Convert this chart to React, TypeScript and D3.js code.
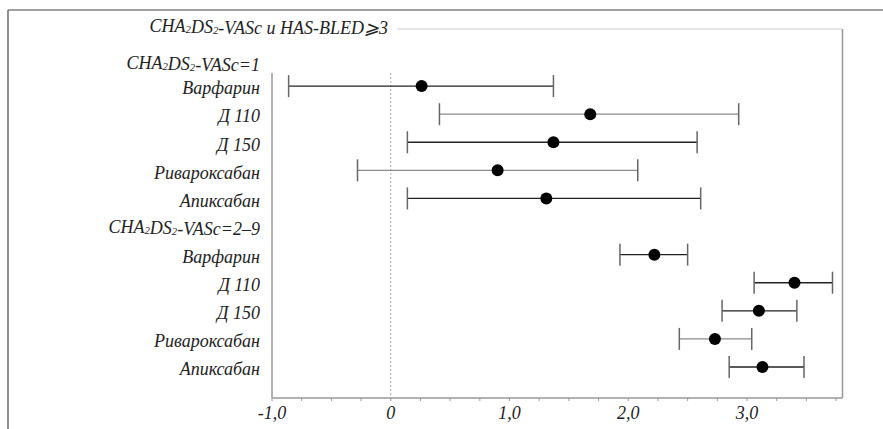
import React from "react";
import * as d3 from "d3";

const title = "CHA₂DS₂-VASc и HAS-BLED⩾3";
const groupHeaders = ["CHA₂DS₂-VASc=1", "CHA₂DS₂-VASc=2–9"];
const drugs = ["Варфарин", "Д 110", "Д 150", "Ривароксабан", "Апиксабан"];

// Group 1: CHA2DS2-VASc = 1
const est1 = [0.26, 1.68, 1.37, 0.9, 1.31];
const lo1 = [-0.86, 0.41, 0.14, -0.28, 0.14];
const hi1 = [1.37, 2.93, 2.58, 2.08, 2.61];
// Group 2: CHA2DS2-VASc = 2–9
const est2 = [2.22, 3.4, 3.1, 2.73, 3.13];
const lo2 = [1.93, 3.06, 2.79, 2.43, 2.85];
const hi2 = [2.5, 3.72, 3.42, 3.04, 3.48];

const xTicks = [-1, 0, 1, 2, 3];
const xTickLabels = ["-1,0", "0", "1,0", "2,0", "3,0"];

// style: which rows are drawn in the lighter grey tone
const lightRows1 = [false, true, false, true, false];
const lightRows2 = [false, false, false, true, false];

const W = 883;
const H = 429;
const FONT = "Liberation Serif";
const FS = 18;

function SubText({ text }: { text: string }) {
  const parts: React.ReactNode[] = [];
  let buf = "";
  let k = 0;
  for (const ch of text) {
    if (ch === "₂") {
      if (buf) parts.push(<tspan key={k++}>{buf}</tspan>);
      buf = "";
      parts.push(
        <tspan key={k++} fontSize={FS * 0.6} dy={1}>
          2
        </tspan>
      );
      parts.push(<tspan key={k++} dy={-1}>{""}</tspan>);
    } else buf += ch;
  }
  if (buf) parts.push(<tspan key={k++}>{buf}</tspan>);
  return <>{parts}</>;
}

export default function App() {
  const x = d3.scaleLinear().domain([-1, 3.8]).range([272, 842]);
  const y = d3.scalePoint<number>().domain(d3.range(12)).range([58, 367]);
  const plotTop = 29;
  const plotBottom = 398;
  const labelX = 260;
  const textStyle: React.CSSProperties = { fontFamily: FONT, fontStyle: "italic", fontSize: `${FS}px` };

  type Row = { label: string; est: number; lo: number; hi: number; light: boolean; idx: number };
  const rows: Row[] = [];
  drugs.forEach((d, i) =>
    rows.push({ label: d, est: est1[i], lo: lo1[i], hi: hi1[i], light: lightRows1[i], idx: 1 + i })
  );
  drugs.forEach((d, i) =>
    rows.push({ label: d, est: est2[i], lo: lo2[i], hi: hi2[i], light: lightRows2[i], idx: 7 + i })
  );

  const minorTicks = d3.range(-1, 3.76, 0.25);

  return (
    <svg width={W} height={H} style={{ position: "absolute", left: 0, top: 0, background: "#fff" }}>
      <rect x={0} y={0} width={W} height={H} fill="#fff" />
      {/* outer frame */}
      <line x1={8} x2={W} y1={10} y2={10} stroke="#444" strokeWidth={1.2} />
      <line x1={8} x2={8} y1={10} y2={H} stroke="#444" strokeWidth={1.2} />

      {/* plot box */}
      <line x1={397} x2={842} y1={plotTop} y2={plotTop} stroke="#ccc" strokeWidth={1} />
      <line x1={842.5} x2={842.5} y1={plotTop} y2={plotBottom} stroke="#999" strokeWidth={1.5} />
      <line x1={x(-1)} x2={x(-1)} y1={73} y2={plotBottom} stroke="#999" strokeWidth={1.5} />
      <line x1={x(-1)} x2={842.5} y1={plotBottom} y2={plotBottom} stroke="#999" strokeWidth={1.5} />
      {minorTicks.map((t, i) => (
        <line key={i} x1={x(t)} x2={x(t)} y1={plotBottom} y2={plotBottom + 3} stroke="#999" strokeWidth={1} />
      ))}
      {/* zero line */}
      <line x1={x(0)} x2={x(0)} y1={73} y2={plotBottom} stroke="#aaa" strokeWidth={1} strokeDasharray="2,2" />

      {/* x tick labels */}
      {xTicks.map((t, i) => (
        <text key={i} x={x(t)} y={413} dy="0.35em" textAnchor="middle" style={textStyle} fill="#222">
          {xTickLabels[i]}
        </text>
      ))}

      {/* title */}
      <text x={388} y={26} dy="0.35em" textAnchor="end" style={textStyle} fill="#222">
        <SubText text={title} />
      </text>

      {/* group headers */}
      <text x={labelX} y={(y(0) as number) + 5} dy="0.35em" textAnchor="end" style={textStyle} fill="#222">
        <SubText text={groupHeaders[0]} />
      </text>
      <text x={labelX} y={y(6) as number} dy="0.35em" textAnchor="end" style={textStyle} fill="#222">
        <SubText text={groupHeaders[1]} />
      </text>

      {rows.map((r, i) => {
        const yy = y(r.idx) as number;
        const col = r.light ? "#8a8a8a" : "#222";
        return (
          <g key={i}>
            <text x={labelX} y={yy + 2} dy="0.35em" textAnchor="end" style={textStyle} fill="#222">
              {r.label}
            </text>
            <line x1={x(r.lo)} x2={x(r.hi)} y1={yy} y2={yy} stroke={col} strokeWidth={1.3} />
            <line x1={x(r.lo)} x2={x(r.lo)} y1={yy - 11} y2={yy + 11} stroke="#666" strokeWidth={1.5} />
            <line x1={x(r.hi)} x2={x(r.hi)} y1={yy - 11} y2={yy + 11} stroke="#666" strokeWidth={1.5} />
            <circle cx={x(r.est)} cy={yy} r={6} fill="#000" />
          </g>
        );
      })}
    </svg>
  );
}
